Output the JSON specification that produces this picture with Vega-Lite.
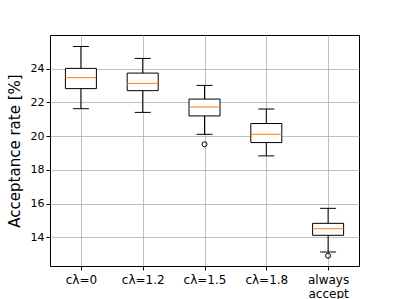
{
  "$schema": "https://vega.github.io/schema/vega-lite/v6.json",
  "width": 309,
  "height": 231,
  "autosize": {"type": "none"},
  "padding": {"left": 50, "top": 35, "right": 40, "bottom": 33},
  "background": "white",
  "config": {
    "font": "DejaVu Sans",
    "view": {"stroke": "black", "strokeWidth": 1},
    "axis": {
      "domain": false,
      "tickColor": "black",
      "tickSize": 4,
      "labelColor": "black",
      "labelFontSize": 11,
      "gridColor": "#b0b0b0",
      "gridWidth": 1,
      "gridOpacity": 0.8
    }
  },
  "datasets": {
    "boxes": [
      {"cat": "cλ=0", "min": 21.63, "q1": 22.82, "median": 23.47, "q3": 24.02, "max": 25.32},
      {"cat": "cλ=1.2", "min": 21.41, "q1": 22.70, "median": 23.13, "q3": 23.74, "max": 24.61},
      {"cat": "cλ=1.5", "min": 20.11, "q1": 21.20, "median": 21.73, "q3": 22.20, "max": 23.01},
      {"cat": "cλ=1.8", "min": 18.83, "q1": 19.62, "median": 20.11, "q3": 20.75, "max": 21.61},
      {"cat": "always\naccept", "min": 13.13, "q1": 14.12, "median": 14.51, "q3": 14.83, "max": 15.72}
    ],
    "outliers": [
      {"cat": "cλ=1.5", "value": 19.52},
      {"cat": "always\naccept", "value": 12.91}
    ]
  },
  "encoding": {
    "x": {
      "field": "cat",
      "type": "nominal",
      "sort": null,
      "scale": {"type": "point", "padding": 0.5, "domain": ["cλ=0", "cλ=1.2", "cλ=1.5", "cλ=1.8", "always\naccept"]},
      "axis": {"title": null, "labelAngle": 0, "labelExpr": "split(datum.label, '\\n')", "labelPadding": 4, "labelFontSize": 12, "grid": true}
    }
  },
  "layer": [
    {
      "data": {"name": "boxes"},
      "mark": {"type": "rule", "color": "black", "strokeWidth": 1},
      "encoding": {
        "y": {
          "field": "min",
          "type": "quantitative",
          "scale": {"domain": [12.3, 26], "nice": false, "zero": false},
          "axis": {"title": "Acceptance rate [%]", "titleFontSize": 15, "titleFontWeight": "normal", "titleColor": "black", "titlePadding": 8, "values": [14, 16, 18, 20, 22, 24], "grid": true}
        },
        "y2": {"field": "max"}
      }
    },
    {
      "data": {"name": "boxes"},
      "mark": {"type": "bar", "fill": "white", "stroke": "black", "strokeWidth": 1, "size": 31},
      "encoding": {
        "y": {"field": "q1", "type": "quantitative", "axis": {"title": "Acceptance rate [%]", "titleFontSize": 15, "titleFontWeight": "normal", "titleColor": "black", "titlePadding": 8, "values": [14, 16, 18, 20, 22, 24], "grid": true}},
        "y2": {"field": "q3"}
      }
    },
    {
      "data": {"name": "boxes"},
      "mark": {"type": "tick", "color": "black", "size": 16, "thickness": 1, "opacity": 1},
      "encoding": {"y": {"field": "min", "type": "quantitative", "axis": {"title": "Acceptance rate [%]", "titleFontSize": 15, "titleFontWeight": "normal", "titleColor": "black", "titlePadding": 8, "values": [14, 16, 18, 20, 22, 24], "grid": true}}}
    },
    {
      "data": {"name": "boxes"},
      "mark": {"type": "tick", "color": "black", "size": 16, "thickness": 1, "opacity": 1},
      "encoding": {"y": {"field": "max", "type": "quantitative", "axis": {"title": "Acceptance rate [%]", "titleFontSize": 15, "titleFontWeight": "normal", "titleColor": "black", "titlePadding": 8, "values": [14, 16, 18, 20, 22, 24], "grid": true}}}
    },
    {
      "data": {"name": "boxes"},
      "mark": {"type": "tick", "color": "#ff7f0e", "size": 31, "thickness": 1, "opacity": 1},
      "encoding": {"y": {"field": "median", "type": "quantitative", "axis": {"title": "Acceptance rate [%]", "titleFontSize": 15, "titleFontWeight": "normal", "titleColor": "black", "titlePadding": 8, "values": [14, 16, 18, 20, 22, 24], "grid": true}}}
    },
    {
      "data": {"name": "outliers"},
      "mark": {"type": "point", "shape": "circle", "filled": false, "stroke": "black", "strokeWidth": 1, "size": 25, "opacity": 1},
      "encoding": {"y": {"field": "value", "type": "quantitative", "axis": {"title": "Acceptance rate [%]", "titleFontSize": 15, "titleFontWeight": "normal", "titleColor": "black", "titlePadding": 8, "values": [14, 16, 18, 20, 22, 24], "grid": true}}}
    }
  ]
}
